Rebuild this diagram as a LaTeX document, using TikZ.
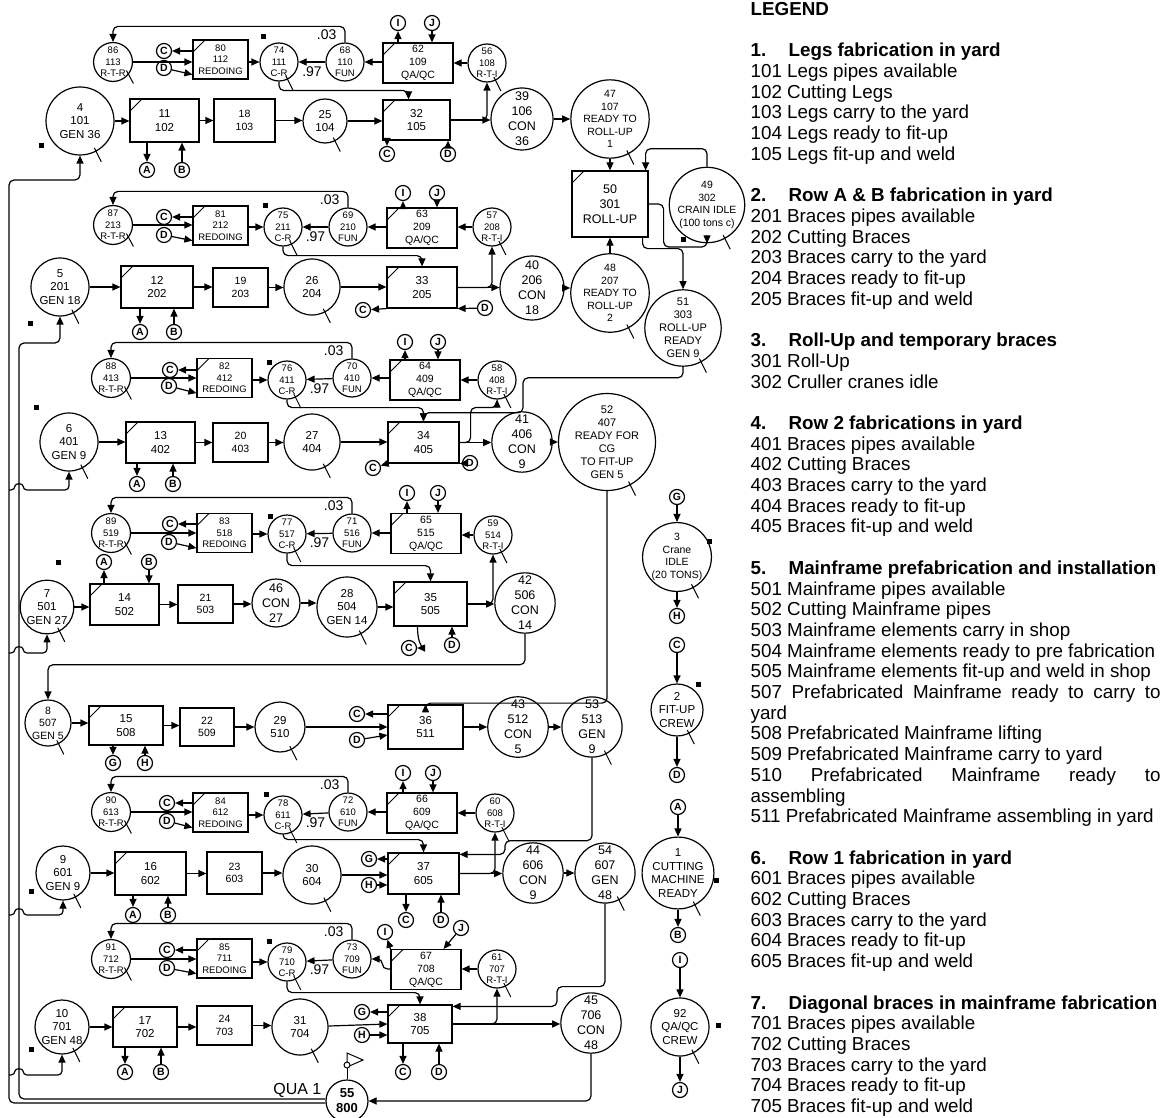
\documentclass[tikz,border=0pt]{standalone}
\usepackage{fontspec}
\setmainfont{Liberation Sans}
\usetikzlibrary{arrows.meta,calc}
\newcommand{\fsmall}{\fontsize{9.5}{11.5}\selectfont}
\newcommand{\fqa}{\fontsize{10.5}{13}\selectfont}
\newcommand{\fmid}{\fontsize{10.5}{12.5}\selectfont}
\newcommand{\fgen}{\fontsize{11.5}{13.5}\selectfont}
\newcommand{\fcon}{\fontsize{12.5}{15}\selectfont}
\newcommand{\flgd}{\fontsize{18.8}{20.7}\selectfont}
\newcommand{\hd}[2]{\textbf{\makebox[38pt][l]{#1}#2}}
\begin{document}
\begin{tikzpicture}[x=1pt,y=-1pt,line width=1.2pt,
que/.style={circle,draw,inner sep=0pt,align=center,minimum size=#1},
act/.style={rectangle,draw,inner sep=0pt,align=center},
combi/.style={act,path picture={\draw[line width=1pt] ([yshift=-12pt]path picture bounding box.north west) -- ([xshift=12pt]path picture bounding box.north west);}},
sq/.style={que=38pt,font=\fsmall},
rb/.style={combi,minimum width=55pt,minimum height=39pt,font=\fsmall},
qb/.style={combi,minimum width=70pt,minimum height=40pt,font=\fqa},
ltr/.style={circle,draw,inner sep=0pt,minimum size=15pt,font=\fontsize{10.5}{12}\selectfont\bfseries},
lab/.style={font=\fontsize{14}{14}\selectfont,inner sep=0pt},
arr/.style={-{Triangle[length=8pt,width=7pt]}}]
\path[use as bounding box,fill=white] (0,0) rectangle (1161,1118);

\node[sq] (rtr1) at (113,62) {86\\113\\R-T-R};
\node[ltr] (Cr1) at (164,51) {C};
\node[ltr] (Dr1) at (164,68) {D};
\node[rb] (redo1) at (220.5,59.5) {80\\112\\REDOING};
\node[sq] (cr1) at (279,62) {74\\111\\C-R};
\node[sq] (fun1) at (345,62) {68\\110\\FUN};
\node[qb] (qa1) at (418,63) {62\\109\\QA/QC};
\node[ltr] (I1) at (398,23) {I};
\node[ltr] (J1) at (432,23) {J};
\node[sq] (rti1) at (487,63) {56\\108\\R-T-I};
\node[que=68pt,font=\fgen] (gen1) at (80,121) {4\\101\\GEN 36};
\node[combi,minimum width=69pt,minimum height=43pt,font=\fgen] (cut1) at (164.5,120.5) {11\\102};
\node[ltr] (A1) at (147,170) {A};
\node[ltr] (B1) at (182,170) {B};
\node[act,minimum width=61pt,minimum height=43pt,font=\fmid] (car1) at (244.5,120.5) {18\\103};
\node[que=44pt,font=\fgen] (rdy1) at (325,121) {25\\104};
\node[combi,minimum width=67pt,minimum height=40pt,font=\fgen] (fit1) at (416.5,120) {32\\105};
\node[ltr] (Cf1) at (387,154) {C};
\node[ltr] (Df1) at (448,154) {D};
\node[que=62pt,font=\fcon] (con1) at (522,119) {39\\106\\CON\\36};
\node[que=72pt,font=\fmid] (rl1) at (610,119) {47\\107\\READY TO\\ROLL-UP\\1};

\node[combi,minimum width=76pt,minimum height=66pt,font=\fcon] (roll) at (610,204) {50\\301\\ROLL-UP};
\node[que=64pt,font=\fmid] (crn) at (707,205) {49\\302\\CRAIN IDLE\\(100 tons c)};
\node[que=66pt,font=\fontsize{11}{13}\selectfont] (rlr) at (683,328) {51\\303\\ROLL-UP\\READY\\GEN 9};
\node[que=64pt,font=\fmid] (rl2) at (610,293) {48\\207\\READY TO\\ROLL-UP\\2};

\node[sq] (rtr2) at (113,225) {87\\213\\R-T-R};
\node[ltr] (Cr2) at (164,217) {C};
\node[ltr] (Dr2) at (164,235) {D};
\node[rb] (redo2) at (220.5,225.5) {81\\212\\REDOING};
\node[sq] (cr2) at (283,227) {75\\211\\C-R};
\node[sq] (fun2) at (348,227) {69\\210\\FUN};
\node[qb] (qa2) at (422,228) {63\\209\\QA/QC};
\node[ltr] (I2) at (403,193) {I};
\node[ltr] (J2) at (437,193) {J};
\node[sq] (rti2) at (492,227) {57\\208\\R-T-I};
\node[que=58pt,font=\fgen] (gen2) at (60,287) {5\\201\\GEN 18};
\node[combi,minimum width=72pt,minimum height=42pt,font=\fgen] (cut2) at (157,287) {12\\202};
\node[ltr] (A2) at (140,332) {A};
\node[ltr] (B2) at (174,332) {B};
\node[act,minimum width=55pt,minimum height=39pt,font=\fmid] (car2) at (240.5,287.5) {19\\203};
\node[que=56pt,font=\fgen] (rdy2) at (312,287) {26\\204};
\node[combi,minimum width=70pt,minimum height=41pt,font=\fgen] (fit2) at (422,287.5) {33\\205};
\node[ltr] (Cf2) at (363,310) {C};
\node[ltr] (Df2) at (485,308) {D};
\node[que=64pt,font=\fcon] (con2) at (532,288) {40\\206\\CON\\18};

\node[sq] (rtr4) at (111,378) {88\\413\\R-T-R};
\node[ltr] (Cr4) at (170,370) {C};
\node[ltr] (Dr4) at (169,386) {D};
\node[rb] (redo4) at (224.5,378) {82\\412\\REDOING};
\node[sq] (cr4) at (287,380) {76\\411\\C-R};
\node[sq] (fun4) at (352,378) {70\\410\\FUN};
\node[qb] (qa4) at (425,380) {64\\409\\QA/QC};
\node[ltr] (I4) at (405,342) {I};
\node[ltr] (J4) at (438,342) {J};
\node[sq] (rti4) at (497,380) {58\\408\\R-T-I};
\node[que=58pt,font=\fgen] (gen4) at (69,442) {6\\401\\GEN 9};
\node[combi,minimum width=69pt,minimum height=41pt,font=\fgen] (cut4) at (160.5,442.5) {13\\402};
\node[ltr] (A4) at (137,484) {A};
\node[ltr] (B4) at (173,484) {B};
\node[act,minimum width=55pt,minimum height=39pt,font=\fmid] (car4) at (240.5,442.5) {20\\403};
\node[que=56pt,font=\fgen] (rdy4) at (312,442) {27\\404};
\node[combi,minimum width=71pt,minimum height=41pt,font=\fgen] (fit4) at (423.5,442.5) {34\\405};
\node[ltr] (Cf4) at (373,468) {C};
\node[ltr] (Df4) at (470,463) {D};
\node[que=56pt,font=\fcon] (con4) at (522,442) {41\\406\\CON\\9};
\node[que=78pt,font=\fontsize{11}{13}\selectfont] (rl4) at (607,442) {52\\407\\READY FOR\\CG\\TO FIT-UP\\GEN 5};

\node[sq] (rtr5) at (111,533) {89\\519\\R-T-R};
\node[ltr] (Cr5) at (170,524) {C};
\node[ltr] (Dr5) at (169,542) {D};
\node[rb] (redo5) at (224.5,533) {83\\518\\REDOING};
\node[sq] (cr5) at (287,534) {77\\517\\C-R};
\node[sq] (fun5) at (352,533) {71\\516\\FUN};
\node[qb] (qa5) at (426,533.5) {65\\515\\QA/QC};
\node[ltr] (I5) at (407,493) {I};
\node[ltr] (J5) at (438,493) {J};
\node[sq] (rti5) at (493,535) {59\\514\\R-T-I};
\node[que=52pt,font=\fgen] (gen5) at (47,607) {7\\501\\GEN 27};
\node[combi,minimum width=69pt,minimum height=41pt,font=\fgen] (cut5) at (124.5,604.5) {14\\502};
\node[ltr] (A5) at (104,562) {A};
\node[ltr] (B5) at (149,562) {B};
\node[act,minimum width=55pt,minimum height=38pt,font=\fmid] (car5) at (205.5,604) {21\\503};
\node[que=48pt,font=\fcon] (con46) at (276,603) {46\\CON\\27};
\node[que=60pt,font=\fgen] (rdy5) at (347,607) {28\\504\\GEN 14};
\node[combi,minimum width=73pt,minimum height=44pt,font=\fgen] (fit5) at (430.5,604) {35\\505};
\node[ltr] (Cf5) at (409,648) {C};
\node[ltr] (Df5) at (452,645) {D};
\node[que=58pt,font=\fcon] (con5) at (525,603) {42\\506\\CON\\14};

\node[que=46pt,font=\fmid] (gen8) at (48,723) {8\\507\\GEN 5};
\node[combi,minimum width=74pt,minimum height=39pt,font=\fgen] (cut8) at (126,725.5) {15\\508};
\node[ltr] (G8) at (113,763) {G};
\node[ltr] (H8) at (145,763) {H};
\node[act,minimum width=54pt,minimum height=38pt,font=\fmid] (car8) at (207,727) {22\\509};
\node[que=50pt,font=\fgen] (rdy8) at (280,727) {29\\510};
\node[ltr] (Cf8) at (357,714) {C};
\node[ltr] (Df8) at (357,740) {D};
\node[combi,minimum width=75pt,minimum height=44pt,font=\fgen] (fit8) at (425.5,727) {36\\511};
\node[que=56pt,font=\fcon] (con8) at (518,727) {43\\512\\CON\\5};
\node[que=56pt,font=\fcon] (gen53) at (592,727) {53\\513\\GEN\\9};

\node[ltr] (G0) at (677,497) {G};
\node[que=56pt,font=\fmid] (crane) at (677,557) {3\\Crane\\IDLE\\(20 TONS)};
\node[ltr] (H0) at (677,616) {H};
\node[ltr] (C0) at (677,645) {C};
\node[que=52pt,font=\fgen] (crew) at (677,710) {2\\FIT-UP\\CREW};
\node[ltr] (D0) at (677,775) {D};
\node[ltr] (A0) at (678,807) {A};
\node[que=58pt,font=\fgen] (mach) at (678,873) {1\\CUTTING\\MACHINE\\READY};
\node[ltr] (B0) at (678,935) {B};
\node[ltr] (I0) at (680,960) {I};
\node[que=58pt,font=\fgen] (qcrew) at (680,1027) {92\\QA/QC\\CREW};
\node[ltr] (J0) at (680,1090) {J};

\node[sq] (rtr6) at (111,812) {90\\613\\R-T-R};
\node[ltr] (Cr6) at (167,803) {C};
\node[ltr] (Dr6) at (167,821) {D};
\node[rb] (redo6) at (220.5,812.5) {84\\612\\REDOING};
\node[sq] (cr6) at (283,815) {78\\611\\C-R};
\node[sq] (fun6) at (348,812) {72\\610\\FUN};
\node[qb] (qa6) at (422,813) {66\\609\\QA/QC};
\node[ltr] (I6) at (403,773) {I};
\node[ltr] (J6) at (433,773) {J};
\node[sq] (rti6) at (495,813) {60\\608\\R-T-I};
\node[que=54pt,font=\fgen] (gen6) at (63,873) {9\\601\\GEN 9};
\node[combi,minimum width=71pt,minimum height=43pt,font=\fgen] (cut6) at (150.5,873.5) {16\\602};
\node[ltr] (A6) at (133,915) {A};
\node[ltr] (B6) at (168,915) {B};
\node[act,minimum width=55pt,minimum height=42pt,font=\fmid] (car6) at (234.5,873) {23\\603};
\node[que=58pt,font=\fgen] (rdy6) at (312,875) {30\\604};
\node[ltr] (Gf6) at (369,859) {G};
\node[ltr] (Hf6) at (369,885) {H};
\node[combi,minimum width=71pt,minimum height=41pt,font=\fgen] (fit6) at (423.5,873.5) {37\\605};
\node[ltr] (Cf6) at (406,920) {C};
\node[ltr] (Df6) at (441,920) {D};
\node[que=58pt,font=\fcon] (con6) at (533,873) {44\\606\\CON\\9};
\node[que=58pt,font=\fcon] (gen54) at (605,873) {54\\607\\GEN\\48};

\node[sq] (rtr7) at (111,959) {91\\712\\R-T-R};
\node[ltr] (Cr7) at (167,950) {C};
\node[ltr] (Dr7) at (167,968) {D};
\node[rb] (redo7) at (224.5,958.5) {85\\711\\REDOING};
\node[sq] (cr7) at (287,962) {79\\710\\C-R};
\node[sq] (fun7) at (352,959) {73\\709\\FUN};
\node[qb] (qa7) at (426,969.5) {67\\708\\QA/QC};
\node[ltr] (I7) at (385,932) {I};
\node[ltr] (J7) at (461,928) {J};
\node[sq] (rti7) at (497,969) {61\\707\\R-T-I};
\node[que=54pt,font=\fgen] (gen7) at (62,1027) {10\\701\\GEN 48};
\node[combi,minimum width=64pt,minimum height=40pt,font=\fgen] (cut7) at (145,1027) {17\\702};
\node[ltr] (A7) at (125,1072) {A};
\node[ltr] (B7) at (161,1072) {B};
\node[act,minimum width=55pt,minimum height=39pt,font=\fmid] (car7) at (224.5,1025.5) {24\\703};
\node[que=56pt,font=\fgen] (rdy7) at (300,1027) {31\\704};
\node[ltr] (Gf7) at (362,1012) {G};
\node[ltr] (Hf7) at (362,1035) {H};
\node[combi,minimum width=64pt,minimum height=38pt,font=\fgen] (fit7) at (420,1024) {38\\705};
\node[ltr] (Cf7) at (403,1072) {C};
\node[ltr] (Df7) at (439,1072) {D};
\node[que=56pt,font=\fcon] (con7) at (591,1023) {45\\706\\CON\\48};
\node[que=42pt,font=\fontsize{13}{15}\selectfont\bfseries] (qua) at (347,1101) {55\\800};
\node[font=\fontsize{16}{16}\selectfont,inner sep=0pt,anchor=east] (qlab) at (322,1090) {QUA 1};
\coordinate (flag) at (347,1065);
\draw[line width=1pt] (qua.north) -- ([yshift=-3pt]flag);
\draw[line width=1pt] (347,1053) -- (363,1060) -- (347,1067) -- cycle;
\draw[line width=1pt,fill=white] (flag) circle[radius=3pt];

\foreach \s in {1,2,4,5,6,7}{
\draw[arr] (rtr\s) -- (rtr\s -| redo\s.west);
\draw[arr] (redo\s.west |- Cr\s) -- (Cr\s);
\draw[arr] (Dr\s) -- ([yshift=5pt]redo\s.south west);
\draw[arr] (redo\s.east |- cr\s) -- (cr\s);
\draw[arr] (fun\s) -- node[below=4pt,lab]{.97} (cr\s);
\draw[arr,rounded corners=5pt] (fun\s.north) -- node[left=8pt,lab]{.03} ++(0,-16) -| (rtr\s.north);
\draw[arr] (rti\s) -- (rti\s -| qa\s.east);
\draw[arr] (fit\s) -- (fit\s -| con\s.west);
}
\foreach \s in {1,2,5,6,7}
\draw[arr,rounded corners=5pt] (fit\s.east) -| (rti\s.south);
\draw[arr,rounded corners=5pt] (fit4.east) -| ++(11,-35) -| (rti4.south);
\foreach \s in {1,2,4,5,6}{
\draw[arr] (qa\s.west |- fun\s) -- (fun\s);
\draw[arr] (qa\s.north -| I\s) -- (I\s);
\draw[arr] (J\s) -- (J\s |- qa\s.north);
}
\draw[arr,rounded corners=5pt] (qa7.west |- rti7) -- ++(-8,0) |- (fun7);
\draw[arr] (qa7.north west) -- (I7);
\draw[arr] (J7) -- ([xshift=-18pt]qa7.north east);

\draw[arr,rounded corners=5pt] (cr1.south) -- ++(0,9) -| ([xshift=-8pt]fit1.north);
\draw[arr,rounded corners=5pt] (cr2.south) -- ++(0,9) -| (fit2.north);
\draw[arr,rounded corners=5pt] (cr4.south) -- ++(0,8) -| (fit4.north);
\draw[arr,rounded corners=5pt] (cr5.south) -- ++(0,12) -| (fit5.north);
\draw[arr,rounded corners=5pt] (cr6.south) -- ++(0,5) -| (fit6.north);
\draw[arr,rounded corners=5pt] (cr7.south) -- ++(0,11) -| (fit7.north);

\foreach \a/\b in {gen1/cut1,cut1/car1,car1/rdy1,rdy1/fit1,con1/rl1,
gen2/cut2,cut2/car2,car2/rdy2,rdy2/fit2,con2/rl2,
gen4/cut4,cut4/car4,car4/rdy4,rdy4/fit4,con4/rl4,
gen5/cut5,cut5/car5,car5/con46,con46/rdy5,rdy5/fit5,
gen8/cut8,cut8/car8,car8/rdy8,rdy8/fit8,fit8/con8,con8/gen53,
gen6/cut6,cut6/car6,car6/rdy6,rdy6/fit6,con6/gen54,
gen7/cut7,cut7/car7,car7/rdy7}
\draw[arr] (\a) -- (\a -| \b.west);
\draw[arr] (rdy7) -- (fit7.west);

\foreach \s in {1,2,4,6,7}{
\draw[arr] (cut\s.south -| A\s) -- (A\s);
\draw[arr] (B\s) -- (B\s |- cut\s.south);
}
\draw[arr] (cut5.north -| A5) -- (A5);
\draw[arr] (B5) -- (B5 |- cut5.north);
\draw[arr] (cut8.south -| G8) -- (G8);
\draw[arr] (H8) -- (H8 |- cut8.south);

\foreach \s in {1,6,7}{
\draw[arr] (fit\s.south -| Cf\s) -- (Cf\s);
\draw[arr] (Df\s) -- (Df\s |- fit\s.south);
}
\draw[arr] (fit2.south west) -- (Cf2);
\draw[arr] (Df2) -- (fit2.south east);
\draw[arr] (fit4.south west) -- (Cf4);
\draw[arr] (Df4) -- (fit4.south east);
\draw[arr] ([xshift=-13pt]fit5.south) .. controls +(0,14) and +(12,0) .. (Cf5);
\draw[arr] (Df5) -- (Df5 |- fit5.south);
\draw[arr] (fit8.west |- Cf8) -- (Cf8);
\draw[arr] (Df8) -- ([yshift=-8pt]fit8.west);
\draw[arr] (fit6.west |- Gf6) -- (Gf6);
\draw[arr] (Hf6) -- (Hf6 -| fit6.west);
\draw[arr] (fit7.west |- Gf7) -- (Gf7);
\draw[arr] (Hf7) -- (Hf7 -| fit7.west);

\draw[arr] (rl1) -- (rl1 |- roll.north);
\draw[arr] (rl2) -- (rl2 |- roll.south);
\draw[arr,rounded corners=5pt] (crn.north) -- ++(0,-18) -| ([xshift=-3pt]roll.north east);
\draw[arr,rounded corners=5pt] (roll.east) -| ++(15,43) -| (crn.south);
\draw[arr,rounded corners=5pt] ([xshift=-6pt]roll.south east) -- ++(0,11) -| (rlr.north);
\draw[arr,rounded corners=5pt] (rlr.south) -- ++(0,11) -| ++(-160,35) -| (fit4.north);
\draw[arr,rounded corners=5pt] (rl4.south) -- ++(0,212) -| (fit8.north);
\draw[arr,rounded corners=5pt] (con5.south) -- ++(0,31) -| (gen8.north);
\draw[arr,rounded corners=5pt] (gen53.south) |- ++(-87,83) |- ([yshift=-2pt]fit6.north east);
\draw[arr,rounded corners=5pt] (gen54.south) |- ++(-48,83) |- ([yshift=-2pt]fit7.north east);
\draw[arr,rounded corners=5pt] (con7.south) |- (qua.east);
\draw[arr,rounded corners=5pt] ([yshift=-2pt]qua.west) -| (9,180) -| (gen1.south);
\draw[arr,rounded corners=5pt] ([yshift=2pt]qua.west) -| (19,343) -| (gen2.south);
\foreach \g/\y in {gen4/490,gen5/653,gen6/915,gen7/1075}
\draw[arr,rounded corners=4pt] (9,\y) -- (15,\y) .. controls (15,\y-7) and (23,\y-7) .. (23,\y) -| (\g.south);

\draw[arr] (G0) -- (crane);
\draw[arr] (crane) -- (H0);
\draw[arr] (C0) -- (crew);
\draw[arr] (crew) -- (D0);
\draw[arr] (A0) -- (mach);
\draw[arr] (mach) -- (B0);
\draw[arr] (I0) -- (qcrew);
\draw[arr] (qcrew) -- (J0);

\foreach \n in {cr1,cr2,cr4,cr5,cr6,cr7,rti1,rti2,rti4,rti5,rti6,rti7,gen1,gen2,gen4,gen5,gen6,gen7,gen8,
rdy1,rdy2,rdy4,rdy5,rdy6,rdy7,rdy8,rl1,rl2,rl4,crn,rlr,gen53,gen54,crane,crew,mach,qcrew}
\draw[line width=1pt] ([shift={(-3pt,3pt)}]\n.-60) -- ++(7pt,-14pt);
\foreach \n in {rtr1,rtr2,rtr4,rtr5,rtr6,rtr7}
\draw[line width=1pt] ([shift={(-3pt,3pt)}]\n.-35) -- ++(7pt,-13pt);
\foreach \p in {(263,37),(265,205),(269,362),(270,516),(266,794),(269,941),(41,146),(30,323),(36,407),
(58,562),(31,891),(31,1049),(683,239),(709,541),(698,684),(716,880),(718,1025)}
\fill \p ++(-2.5,-2.5) rectangle ++(5,5);

\node[anchor=base west,inner sep=0pt,font=\flgd] (lgd) at (750,15.5) {\parbox[t]{410pt}{\raggedright
\textbf{LEGEND}\\
\mbox{}\\
\hd{1.}{Legs fabrication in yard}\\
101 Legs pipes available\\
102 Cutting Legs\\
103 Legs carry to the yard\\
104 Legs ready to fit-up\\
105 Legs fit-up and weld\\
\mbox{}\\
\hd{2.}{Row A \& B fabrication in yard}\\
201 Braces pipes available\\
202 Cutting Braces\\
203 Braces carry to the yard\\
204 Braces ready to fit-up\\
205 Braces fit-up and weld\\
\mbox{}\\
\hd{3.}{Roll-Up and temporary braces}\\
301 Roll-Up\\
302 Cruller cranes idle\\
\mbox{}\\
\hd{4.}{Row 2 fabrications in yard}\\
401 Braces pipes available\\
402 Cutting Braces\\
403 Braces carry to the yard\\
404 Braces ready to fit-up\\
405 Braces fit-up and weld\\
\mbox{}\\
\hd{5.}{Mainframe prefabrication and installation}\\
501 Mainframe pipes available\\
502 Cutting Mainframe pipes\\
503 Mainframe elements carry in shop\\
504 Mainframe elements ready to pre fabrication\\
505 Mainframe elements fit-up and weld in shop\\
\makebox[\linewidth][s]{507 Prefabricated Mainframe ready to carry to}\\
yard\\
508 Prefabricated Mainframe lifting\\
509 Prefabricated Mainframe carry to yard\\
\makebox[\linewidth][s]{510 Prefabricated Mainframe ready to}\\
assembling\\
511 Prefabricated Mainframe assembling in yard\\
\mbox{}\\
\hd{6.}{Row 1 fabrication in yard}\\
601 Braces pipes available\\
602 Cutting Braces\\
603 Braces carry to the yard\\
604 Braces ready to fit-up\\
605 Braces fit-up and weld\\
\mbox{}\\
\hd{7.}{Diagonal braces in mainframe fabrication}\\
701 Braces pipes available\\
702 Cutting Braces\\
703 Braces carry to the yard\\
704 Braces ready to fit-up\\
705 Braces fit-up and weld}};
\end{tikzpicture}
\end{document}
